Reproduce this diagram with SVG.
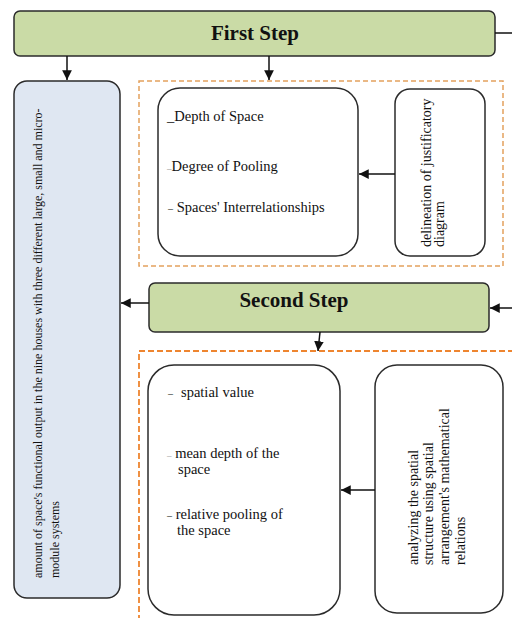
<svg xmlns="http://www.w3.org/2000/svg" width="512" height="618" viewBox="0 0 512 618">
  <style>
    .step { fill: #cadba6; stroke: #2b2b2b; stroke-width: 1.5; }
    .box { fill: #ffffff; stroke: #2b2b2b; stroke-width: 1.5; }
    .blue { fill: #dfe7f2; stroke: #2b2b2b; stroke-width: 1.5; }
    .title { font-family: "Liberation Serif", "Times New Roman", serif; font-weight: bold; font-size: 21px; fill: #111; text-anchor: middle; }
    .t { font-family: "Liberation Serif", "Times New Roman", serif; font-size: 14.5px; fill: #111; }
    .tv { font-family: "Liberation Serif", "Times New Roman", serif; font-size: 14px; fill: #111; }
    .ts { font-family: "Liberation Serif", "Times New Roman", serif; font-size: 12px; fill: #111; }
    .link { stroke: #111; stroke-width: 1.5; fill: none; }
    .dash1 { fill: none; stroke: #e3a15e; stroke-width: 1.5; stroke-dasharray: 5 3; }
    .dash2 { fill: none; stroke: #ee8530; stroke-width: 1.8; stroke-dasharray: 6 3; }
  </style>
  <defs>
    <marker id="arrow" viewBox="0 0 10 10" refX="10" refY="5" markerWidth="6.5" markerHeight="6.5" orient="auto" markerUnits="strokeWidth">
      <path d="M0,0 L10,5 L0,10 z" fill="#111"/>
    </marker>
  </defs>

  <rect width="512" height="618" fill="#ffffff"/>

  <!-- dashed group frames -->
  <g id="frames">
    <rect class="dash1" x="139" y="81" width="364" height="185"/>
    <rect class="dash2" x="139" y="351" width="420" height="300"/>
  </g>

  <g id="first-step">
    <rect class="step" x="14" y="11" width="481" height="45" rx="6"/>
    <text class="title" x="255" y="40">First Step</text>
  </g>

  <g id="output-summary">
    <rect class="blue" x="14" y="81" width="106" height="517" rx="13"/>
    <text class="ts" transform="translate(42,578) rotate(-90)">amount of space's functional output in the nine houses with three different large, small and micro-</text>
    <text class="ts" transform="translate(59,578) rotate(-90)">module systems</text>
  </g>

  <g id="syntax-measures">
    <rect class="box" x="158" y="88" width="200" height="168" rx="22"/>
    <text class="t" x="167" y="121">_Depth of Space</text>
    <text class="t" x="167" y="171"><tspan font-size="9" fill="#777">–</tspan>Degree of Pooling</text>
    <text class="t" x="168" y="212"><tspan font-size="10">–</tspan> Spaces' Interrelationships</text>
  </g>

  <g id="justified-diagram">
    <rect class="box" x="395" y="89" width="90" height="167" rx="15"/>
    <text class="tv" transform="translate(431,247) rotate(-90)">delineation of justificatory</text>
    <text class="tv" transform="translate(444,247) rotate(-90)">diagram</text>
  </g>

  <g id="second-step">
    <rect class="step" x="149" y="283" width="340" height="49" rx="6"/>
    <text class="title" x="294" y="307">Second Step</text>
  </g>

  <g id="spatial-values">
    <rect class="box" x="148" y="365" width="192" height="250" rx="26"/>
    <text class="t" x="168" y="397"><tspan font-size="10">–</tspan></text>
    <text class="t" x="181" y="397">spatial value</text>
    <text class="t" x="167" y="458"><tspan font-size="9" fill="#888">–</tspan> mean depth of the</text>
    <text class="t" x="178" y="474">space</text>
    <text class="t" x="167" y="519"><tspan font-size="10">–</tspan> relative pooling of</text>
    <text class="t" x="177" y="535">the space</text>
  </g>

  <g id="spatial-analysis">
    <rect class="box" x="375" y="365" width="128" height="248" rx="22"/>
    <text class="tv" transform="translate(418,565) rotate(-90)">analyzing the spatial</text>
    <text class="tv" transform="translate(433,565) rotate(-90)">structure using spatial</text>
    <text class="tv" transform="translate(449,565) rotate(-90)">arrangement's mathematical</text>
    <text class="tv" transform="translate(465,565) rotate(-90)">relations</text>
  </g>

  <g id="connectors">
    <line class="link" x1="495" y1="33" x2="512" y2="33"/>
    <line class="link" x1="67" y1="56" x2="67" y2="80" marker-end="url(#arrow)"/>
    <line class="link" x1="269" y1="56" x2="269" y2="80" marker-end="url(#arrow)"/>
    <line class="link" x1="395" y1="174" x2="359" y2="174" marker-end="url(#arrow)"/>
    <line class="link" x1="512" y1="308" x2="490" y2="308" marker-end="url(#arrow)"/>
    <line class="link" x1="149" y1="303" x2="121" y2="303" marker-end="url(#arrow)"/>
    <line class="link" x1="320" y1="332" x2="318" y2="351" marker-end="url(#arrow)"/>
    <line class="link" x1="375" y1="490" x2="341" y2="490" marker-end="url(#arrow)"/>
  </g>
</svg>
